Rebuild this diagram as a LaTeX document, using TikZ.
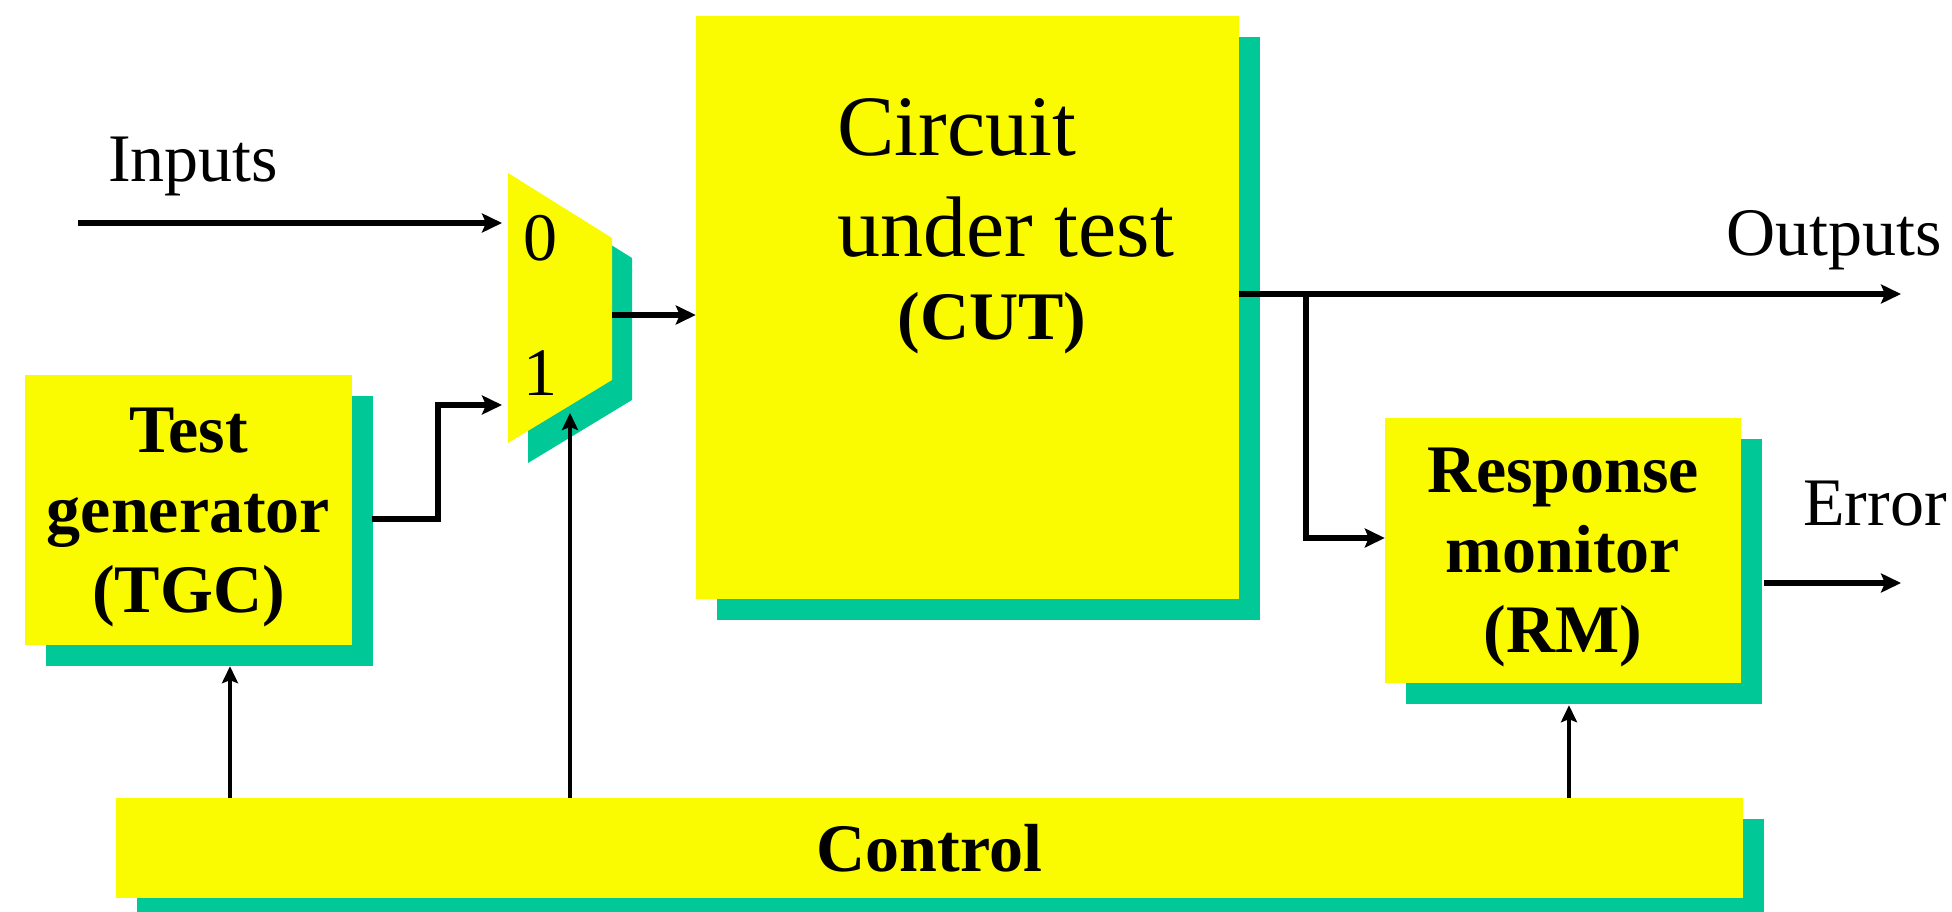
\documentclass[tikz,border=0pt]{standalone}
\usepackage{fontspec}
\setmainfont{Liberation Serif}
\usetikzlibrary{arrows.meta,shadows,calc}
\definecolor{boxyellow}{RGB}{250,250,0}
\definecolor{shadowteal}{RGB}{0,200,150}
\begin{document}
\begin{tikzpicture}[x=1pt,y=-1pt,
  blk/.style={fill=boxyellow, draw=none, inner sep=0pt, align=center,
    font=\fontsize{68}{80}\selectfont\bfseries,
    drop shadow={shadow xshift=21pt, shadow yshift=-21pt, fill=shadowteal, opacity=1}},
  lbl/.style={inner sep=0pt, font=\fontsize{68}{80}\selectfont},
  bigtxt/.style={inner sep=0pt, font=\fontsize{86}{101}\selectfont},
  wire/.style={line width=5.5pt, -{Stealth[length=20pt,width=19pt,inset=4pt]}},
  ctl/.style={line width=4pt, -{Stealth[length=17pt,width=16pt,inset=3pt]}}
]
\useasboundingbox[fill=white] (0,0) rectangle (1952,912);

% blocks
\node[blk, minimum width=327pt, minimum height=270pt] (tgc) at (188.5,510) {\rule{0pt}{59pt}Test\\generator\\(TGC)};
\node[blk, minimum width=543pt, minimum height=583pt] (cut) at (967.5,307.5) {};
\node[blk, minimum width=356pt, minimum height=265pt] (rm) at (1563,550.5) {\rule{0pt}{59pt}Response\\monitor\\(RM)};
\node[blk, minimum width=1627pt, minimum height=100pt] (ctrl) at (929.5,848) {Control};

% CUT text
\node[bigtxt, anchor=base west] (cutl1) at (837,156) {Circuit};
\node[bigtxt, anchor=base west] (cutl2) at (837,257) {under test};
\node[lbl, font=\fontsize{68}{80}\selectfont\bfseries, anchor=base] (cutl3) at (992,339) {(CUT)};

% multiplexer
\coordinate (m1) at (508,173);
\coordinate (m2) at (612,238);
\coordinate (m3) at (612,380);
\coordinate (m4) at (508,443);
\fill[shadowteal] ([shift={(20,20)}]m1) -- ([shift={(20,20)}]m2) -- ([shift={(20,20)}]m3) -- ([shift={(20,20)}]m4) -- cycle;
\fill[boxyellow] (m1) -- (m2) -- (m3) -- (m4) -- cycle;
\node[lbl] (zero) at (540,238) {0};
\node[lbl] (one) at (540,373) {1};
\coordinate (in0) at (502,223);
\coordinate (in1) at (502,405);
\coordinate (mout) at (612,315);
\coordinate (sel) at (570,413);

% labels
\node[lbl, anchor=base west] (inputs) at (108,182) {Inputs};
\node[lbl, anchor=base west] (outputs) at (1726,255) {Outputs};
\node[lbl, anchor=base west] (error) at (1803,525) {Error};

% connectors
\coordinate (inStart) at (78,223);
\draw[wire] (inStart) -- (in0);
\draw[wire] ([xshift=20pt,yshift=-9pt]tgc.east) -- ++(66,0) |- (in1);
\draw[wire] (mout) -- (mout -| cut.west);

\coordinate (cutout) at ([yshift=13.5pt]cut.east);
\coordinate (outEnd) at (1901,294);
\coordinate (branch) at (1306,294);
\draw[wire] (cutout) -- (outEnd);
\draw[wire] (branch) |- ([yshift=12.5pt]rm.west);
\coordinate (errStart) at ([xshift=23pt,yshift=-32.5pt]rm.east);
\coordinate (errEnd) at (1901,583);
\draw[wire] (errStart) -- (errEnd);

\coordinate (c1) at (230,0);
\coordinate (c3) at (1569,0);
\coordinate (tgcsb) at ([yshift=-21pt]tgc.south);
\coordinate (rmsb) at ([yshift=-22pt]rm.south);
\draw[ctl] (ctrl.north -| c1) -- (c1 |- tgcsb);
\draw[ctl] (ctrl.north -| sel) -- (sel);
\draw[ctl] (ctrl.north -| c3) -- (c3 |- rmsb);
\end{tikzpicture}
\end{document}
